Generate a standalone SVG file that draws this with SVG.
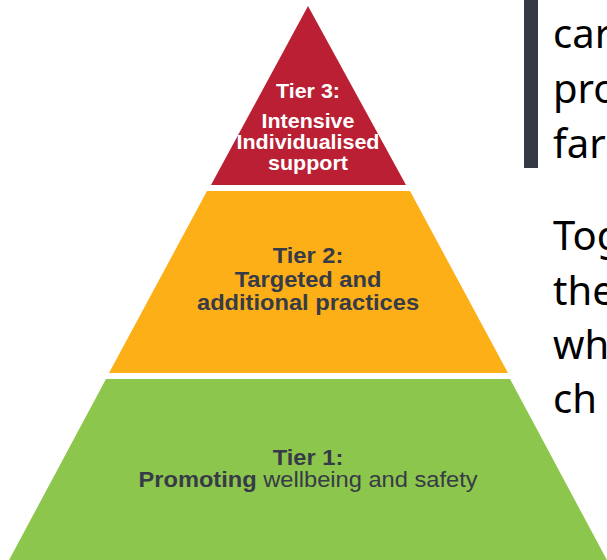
<svg xmlns="http://www.w3.org/2000/svg" width="607" height="560" viewBox="0 0 607 560">
<style>
.lbl{font-family:"Liberation Sans",Arial,sans-serif;text-anchor:middle;fill:#363b47}
.b{font-weight:bold}
.w{fill:#ffffff}
.side{font-family:"Noto Sans","Open Sans",sans-serif;font-size:40px;fill:#000000}
</style>
<rect width="607" height="560" fill="#ffffff"/>
<g id="tier3">
<polygon points="308,6 211,185 406,185" fill="#BA1F33"/>
<g transform="translate(308 0) scale(1.1 1)">
<text class="lbl b w" font-size="19.5" x="0" y="98">Tier 3:</text>
<text class="lbl b w" font-size="19.5" x="0" y="128">Intensive</text>
<text class="lbl b w" font-size="19.5" x="0" y="149.5">Individualised</text>
<text class="lbl b w" font-size="19.5" x="0" y="170.5">support</text>
</g>
</g>
<g id="tier2">
<polygon points="207,191 410,191 508,373 109,373" fill="#FCAF17"/>
<g transform="translate(308 0) scale(1.1 1)">
<text class="lbl b" font-size="21.5" x="0" y="263.5">Tier 2:</text>
<text class="lbl b" font-size="21.5" x="0" y="287">Targeted and</text>
<text class="lbl b" font-size="21.5" x="0" y="310.5">additional practices</text>
</g>
</g>
<g id="tier1">
<polygon points="106,379 510,379 608,562 8,562" fill="#8DC64C"/>
<g transform="translate(308 0) scale(1.1 1)">
<text class="lbl b" font-size="21.5" x="0" y="465">Tier 1:</text>
<text class="lbl" font-size="21.5" x="0" y="487"><tspan class="b">Promoting</tspan> wellbeing and safety</text>
</g>
</g>
<g id="quote">
<rect x="524" y="0" width="14" height="168" fill="#343944"/>
<text class="side" x="553" y="48">car</text>
<text class="side" x="553" y="103">pro</text>
<text class="side" x="553" y="158">far</text>
</g>
<g id="para">
<text class="side" x="553" y="250">Tog</text>
<text class="side" x="553" y="305">the</text>
<text class="side" x="553" y="359">wh</text>
<text class="side" x="553" y="413">ch</text>
</g>
<g id="connectors"/>
</svg>
